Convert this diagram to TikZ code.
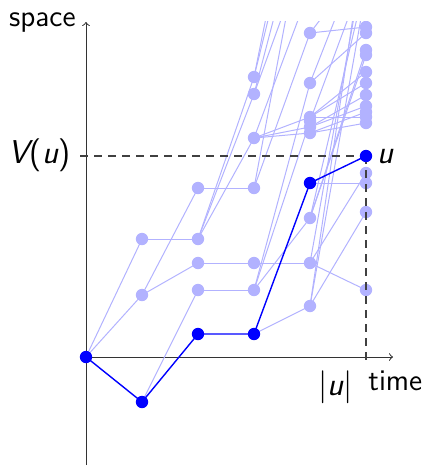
\documentclass[tikz,border=0pt]{standalone}
\usepackage{fontspec}
\begin{document}
\begin{tikzpicture}[
      x=0.5pt, y=-0.5pt,
      every node/.style={font=\sffamily\fontsize{15}{18}\selectfont},
      lnode/.style={circle, fill=blue!30, inner sep=0pt, minimum size=6.2pt},
      dnode/.style={lnode, fill=blue},
      branch/.style={blue!30, line width=0.5pt},
      spine/.style={blue, line width=0.7pt},
      axis/.style={black!80, line width=0.5pt, ->},
      guide/.style={black!75, line width=0.6pt, dash pattern=on 4pt off 3pt},
      lbl/.style={inner sep=0pt},
    ]
    \useasboundingbox (0,0) rectangle (422,467);

    % axes
    \coordinate (ybot) at (86,465);
    \coordinate (ytop) at (86,22);
    \coordinate (xleft) at (80,357);
    \coordinate (xright) at (393,357);
    \draw[axis] (ybot) -- (ytop);
    \draw[axis] (xleft) -- (xright);

    \begin{scope}
      \clip (0,21) rectangle (422,467);
      % particles of the tree
      \foreach \n/\x/\y in {o/86/357,
          a1/142/402, a2/142/295, a3/142/239,
          b1/198/334, b2/198/290, b3/198/263, b4/198/188, b5/198/239,
          c1/254/334, c2/254/290, c3/254/263, c4/254/188, c5/254/138, c6/254/94, c7/254/77,
          d1/310/183, d2/310/306, d3/310/263, d4/310/218, d5/310/117, d6/310/127, d7/310/133,
          d8/310/83, d9/310/33, d10/310/121, d11/310/-200, d12/310/-150, d13/310/-120,
          d14/310/-60, d15/310/-12, d16/310/-110,
          u/366/156, e1/366/183, e2/366/290, e3/366/212, e4/366/173, e5/366/27, e6/366/33,
          e7/366/50, e8/366/55, e9/366/72, e10/366/83, e11/366/95, e12/366/106, e13/366/112,
          e14/366/117, e15/366/123, e16/366/-10, e17/366/-70, e18/366/-50, e19/366/-20,
          e20/366/-60, e21/366/-40, e22/366/-30} {
        \coordinate (\n) at (\x,\y);
      }
      % light branches
      \foreach \p/\c in {o/a2, o/a3, a1/b2, a2/b3, a2/b4, a3/b5,
          b2/c2, b3/c3, b4/c4, b5/c5, b5/c6, b5/c7,
          c1/d2, c3/d3, c2/d4, c5/d5, c5/d6, c5/d7, c2/d8, c4/d9, c2/d10,
          c7/d11, c7/d12, c6/d13, c6/d14, c5/d15, c4/d16,
          d1/e1, d3/e2, d2/e3, d3/e4, d9/e5, d8/e6, d4/e7, d4/e8, d5/e9, d5/e10,
          d6/e11, d6/e12, d7/e13, d5/e14, d7/e15, d2/e16, d2/e17, d3/e18, d4/e19,
          d8/e20, d9/e21, d10/e22} {
        \draw[branch] (\p) -- (\c);
      }
      \foreach \n in {a2, a3, b2, b3, b4, b5, c2, c3, c4, c5, c6, c7,
          d2, d3, d4, d5, d6, d7, d8, d9, d10, d15,
          e1, e2, e3, e4, e5, e6, e7, e8, e9, e10, e11, e12, e13, e14, e15} {
        \node[lnode] at (\n) {};
      }
    \end{scope}

    % level and time of u
    \coordinate (vleft) at (80,156);
    \coordinate (tbot) at (366,364);
    \draw[guide] (vleft) -- (u);
    \draw[guide] (u) -- (tbot);

    % ancestral line of u
    \draw[spine] (o) -- (a1) -- (b1) -- (c1) -- (d1) -- (u);
    \foreach \n in {o, a1, b1, c1, d1, u} {
      \node[dnode] at (\n) {};
    }

    % labels
    \node[lbl, anchor=base east] (lspace) at (76,26) {space};
    \node[lbl, anchor=base east, font=\sffamily\fontsize{16.5}{19}\selectfont] (lval) at (71,163)
      {\itshape V\upshape(\kern0.5pt\itshape u\upshape)};
    \node[lbl, anchor=base west, font=\sffamily\fontsize{16.5}{19}\selectfont] (lu) at (377,163) {\itshape u};
    \node[lbl, anchor=base east, font=\sffamily\fontsize{16.5}{19}\selectfont] (lgen) at (353,395) {|\itshape u\upshape|};
    \node[lbl, anchor=base west] (ltime) at (368,390) {time};
  \end{tikzpicture}
\end{document}
